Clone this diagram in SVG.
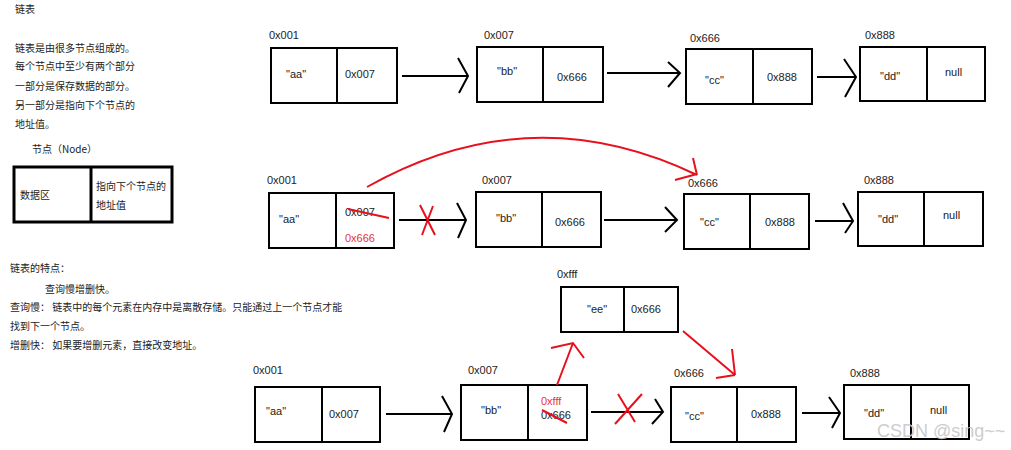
<svg xmlns="http://www.w3.org/2000/svg" width="1011" height="450" viewBox="0 0 1011 450">
<style>
.t{font-family:"Liberation Sans","Noto Sans CJK SC",sans-serif;font-size:11px;fill:#222}
.c{font-family:"Noto Sans CJK SC","Liberation Sans",sans-serif;font-size:10px;fill:#222}
.r{fill:#e8323c}
.box{fill:#fff;stroke:#000;stroke-width:2}
.ln{stroke:#000;stroke-width:2;fill:none}
.red{stroke:#e8101c;stroke-width:2;fill:none}
</style>
<rect width="1011" height="450" fill="#fff"/>
<g id="intro">
<text class="c" x="15" y="13">链表</text>
<text class="c" x="15" y="52">链表是由很多节点组成的。</text>
<text class="c" x="15" y="70">每个节点中至少有两个部分</text>
<text class="c" x="15" y="90">一部分是保存数据的部分。</text>
<text class="c" x="15" y="109">另一部分是指向下个节点的</text>
<text class="c" x="15" y="128">地址值。</text>
<text class="c" x="32" y="153">节点（Node）</text>
</g>
<g id="legend-node">
<rect x="14" y="167" width="158" height="55" fill="#fff" stroke="#000" stroke-width="3"/>
<line x1="91" y1="167" x2="91" y2="222" stroke="#000" stroke-width="3"/>
<text class="c" x="20" y="199">数据区</text>
<text class="c" x="96" y="190">指向下个节点的</text>
<text class="c" x="96" y="209">地址值</text>
</g>
<g id="features">
<text class="c" x="10" y="272">链表的特点：</text>
<text class="c" x="45" y="293">查询慢增删快。</text>
<text class="c" x="10" y="311">查询慢： 链表中的每个元素在内存中是离散存储。只能通过上一个节点才能</text>
<text class="c" x="10" y="330">找到下一个节点。</text>
<text class="c" x="10" y="349">增删快： 如果要增删元素，直接改变地址。</text>
</g>
<!-- Row 1 -->
<g id="r1-aa">
<text class="t" x="269" y="39">0x001</text>
<rect class="box" x="271" y="48" width="126" height="55"/>
<line class="ln" x1="337" y1="48" x2="337" y2="103"/>
<text class="t" x="286" y="78">"aa"</text>
<text class="t" x="345" y="78">0x007</text>
</g>
<g id="r1-bb">
<text class="t" x="484" y="39">0x007</text>
<rect class="box" x="477" y="47" width="126" height="55"/>
<line class="ln" x1="543" y1="47" x2="543" y2="102"/>
<text class="t" x="497" y="75">"bb"</text>
<text class="t" x="557" y="81">0x666</text>
</g>
<g id="r1-cc">
<text class="t" x="690" y="42">0x666</text>
<rect class="box" x="686" y="49" width="126" height="55"/>
<line class="ln" x1="753" y1="49" x2="753" y2="104"/>
<text class="t" x="705" y="84">"cc"</text>
<text class="t" x="767" y="81">0x888</text>
</g>
<g id="r1-dd">
<text class="t" x="865" y="39">0x888</text>
<rect class="box" x="860" y="47" width="125" height="54"/>
<line class="ln" x1="927" y1="47" x2="927" y2="101"/>
<text class="t" x="880" y="80">"dd"</text>
<text class="t" x="945" y="76">null</text>
</g>
<!-- Row 2 -->
<g id="r2-aa">
<text class="t" x="267" y="184">0x001</text>
<rect class="box" x="269" y="193" width="125" height="55"/>
<line class="ln" x1="336" y1="193" x2="336" y2="248"/>
<text class="t" x="279" y="223">"aa"</text>
<text class="t" x="345" y="216">0x007</text>
<text class="t r" x="345" y="242">0x666</text>
</g>
<g id="r2-bb">
<text class="t" x="482" y="184">0x007</text>
<rect class="box" x="476" y="192" width="125" height="55"/>
<line class="ln" x1="542" y1="192" x2="542" y2="247"/>
<text class="t" x="496" y="222">"bb"</text>
<text class="t" x="555" y="226">0x666</text>
</g>
<g id="r2-cc">
<text class="t" x="688" y="187">0x666</text>
<rect class="box" x="684" y="194" width="125" height="55"/>
<line class="ln" x1="750" y1="194" x2="750" y2="249"/>
<text class="t" x="700" y="226">"cc"</text>
<text class="t" x="765" y="226">0x888</text>
</g>
<g id="r2-dd">
<text class="t" x="864" y="184">0x888</text>
<rect class="box" x="858" y="192" width="125" height="54"/>
<line class="ln" x1="924" y1="192" x2="924" y2="246"/>
<text class="t" x="878" y="223">"dd"</text>
<text class="t" x="943" y="219">null</text>
</g>
<!-- Row 3 -->
<g id="r3-ee">
<text class="t" x="557" y="278">0xfff</text>
<rect class="box" x="561" y="287" width="117" height="45"/>
<line class="ln" x1="624" y1="287" x2="624" y2="333"/>
<text class="t" x="587" y="313">"ee"</text>
<text class="t" x="631" y="313">0x666</text>
</g>
<g id="r3-aa">
<text class="t" x="253" y="374">0x001</text>
<rect class="box" x="255" y="387" width="125" height="55"/>
<line class="ln" x1="322" y1="387" x2="322" y2="442"/>
<text class="t" x="266" y="415">"aa"</text>
<text class="t" x="329" y="418">0x007</text>
</g>
<g id="r3-bb">
<text class="t" x="468" y="374">0x007</text>
<rect class="box" x="461" y="385" width="126" height="55"/>
<line class="ln" x1="528" y1="385" x2="528" y2="440"/>
<text class="t" x="481" y="414">"bb"</text>
<text class="t r" x="541" y="405">0xfff</text>
<text class="t" x="541" y="419">0x666</text>
</g>
<g id="r3-cc">
<text class="t" x="674" y="377">0x666</text>
<rect class="box" x="671" y="387" width="125" height="55"/>
<line class="ln" x1="737" y1="387" x2="737" y2="442"/>
<text class="t" x="685" y="420">"cc"</text>
<text class="t" x="751" y="418">0x888</text>
</g>
<g id="r3-dd">
<text class="t" x="850" y="377">0x888</text>
<rect class="box" x="844" y="385" width="125" height="54"/>
<line class="ln" x1="911" y1="385" x2="911" y2="439"/>
<text class="t" x="864" y="417">"dd"</text>
<text class="t" x="930" y="414">null</text>
</g>
<g id="connectors">
<!-- row 1 -->
<path class="ln" d="M402,76H468M458,58L468,76L459,93"/>
<path class="ln" d="M607,73H680M668,62L680,73L668,87"/>
<path class="ln" d="M817,77H856M844,59L856,77L845,97"/>
<!-- row 2 -->
<path class="ln" d="M399,220H466M457,203L466,220L458,238"/>
<path class="ln" d="M604,220H677M665,207L677,220L665,232"/>
<path class="ln" d="M815,221H853M843,203L853,221L845,233"/>
<path class="red" d="M367,187Q530,95 697,175M693,158L697,175M675,180L697,174"/>
<path class="red" d="M348,209L389,218"/>
<path class="red" d="M420,205L435,235M433,206L422,235"/>
<!-- row 3 -->
<path class="ln" d="M386,414H452M442,396L452,414L444,432"/>
<path class="ln" d="M591,412H663M655,399L663,412L652,424"/>
<path class="ln" d="M802,413H840M829,397L840,413L832,428"/>
<path class="red" d="M542,410L567,423"/>
<path class="red" d="M618,394L635,422M642,394L615,424"/>
<path class="red" d="M557,385L573,343M551,348L573,343L584,358"/>
<path class="red" d="M683,331L735,375M732,349L735,375M716,378L735,375"/>
</g>
<text x="877" y="437" font-family="'Liberation Sans',sans-serif" font-size="18" fill="#c8c8c8" opacity="0.9">CSDN @sing~~</text>
</svg>
